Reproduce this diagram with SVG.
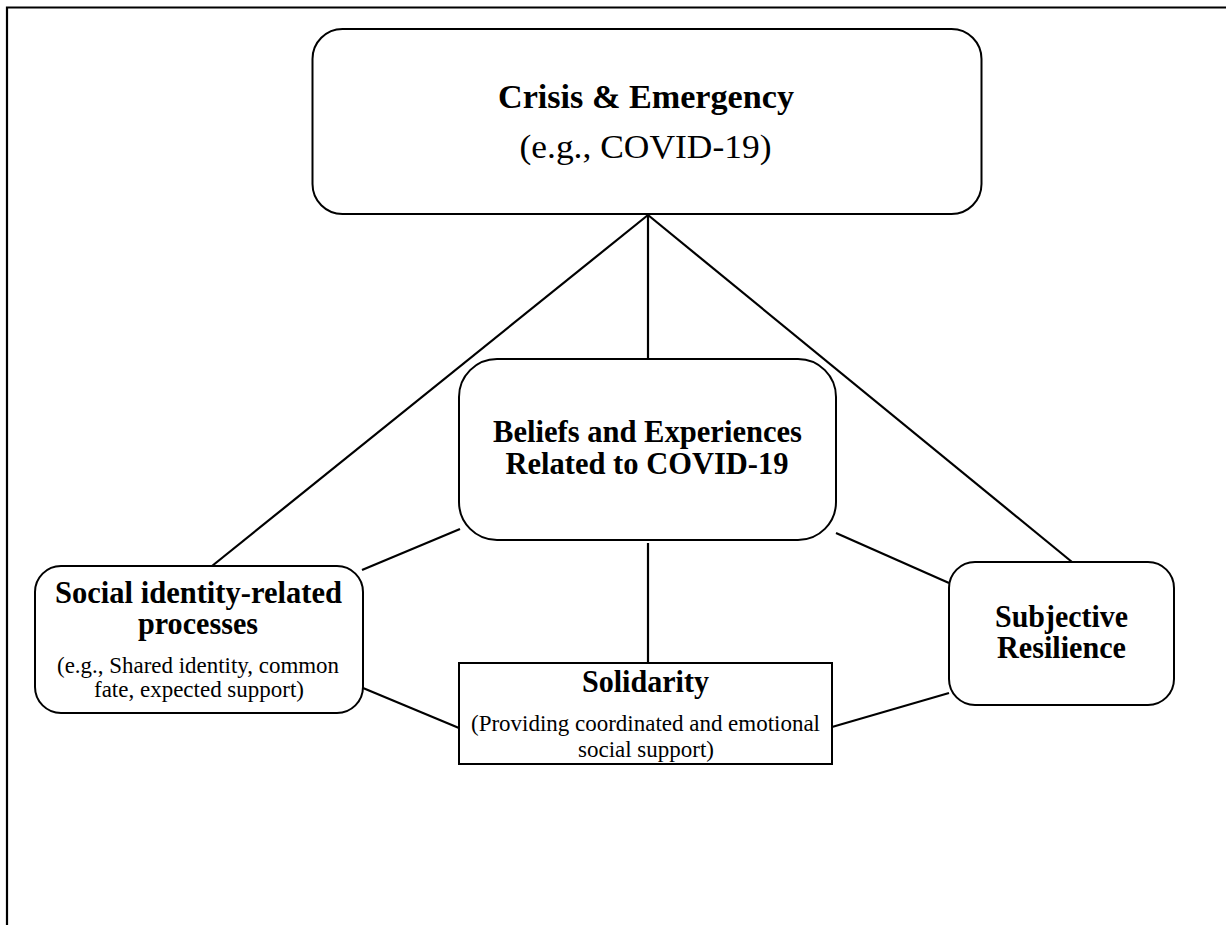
<svg xmlns="http://www.w3.org/2000/svg" width="1226" height="925" viewBox="0 0 1226 925">
<style>
.box{fill:#fff;stroke:#000;stroke-width:2}
.ln{stroke:#000;stroke-width:2.2;fill:none}
text{font-family:"Liberation Serif","Times New Roman",serif;fill:#000;text-anchor:middle}
.b{font-weight:bold;font-size:30.5px}
.big{font-size:34.5px}
.s{font-size:23px}
</style>
<rect width="1226" height="925" fill="#fff"/>
<g id="frame"><path class="ln" d="M7,925 V7.5 H1226"/></g>
<g id="connectors">
<line class="ln" x1="648" y1="215" x2="212" y2="566"/>
<line class="ln" x1="648" y1="215" x2="648" y2="359"/>
<line class="ln" x1="648" y1="215" x2="1072" y2="562"/>
<line class="ln" x1="460" y1="529" x2="362" y2="570"/>
<line class="ln" x1="836" y1="533" x2="949" y2="583"/>
<line class="ln" x1="648" y1="543" x2="648" y2="663"/>
<line class="ln" x1="363" y1="688" x2="459" y2="728"/>
<line class="ln" x1="832" y1="727" x2="949" y2="693"/>
</g>
<g id="crisis">
<rect class="box" x="312.5" y="29" width="669" height="185" rx="30"/>
<text class="b big" x="646" y="108" textLength="296" lengthAdjust="spacingAndGlyphs">Crisis &amp; Emergency</text>
<text class="big" x="645.5" y="158" textLength="252" lengthAdjust="spacingAndGlyphs">(e.g., COVID-19)</text>
</g>
<g id="beliefs">
<rect class="box" x="459" y="359" width="377" height="181" rx="38"/>
<text class="b" x="647.5" y="442" textLength="309" lengthAdjust="spacingAndGlyphs">Beliefs and Experiences</text>
<text class="b" x="647" y="474" textLength="283" lengthAdjust="spacingAndGlyphs">Related to COVID-19</text>
</g>
<g id="social">
<rect class="box" x="35" y="566" width="328" height="147" rx="26"/>
<text class="b" x="198.5" y="603" textLength="287" lengthAdjust="spacingAndGlyphs">Social identity-related</text>
<text class="b" x="198" y="634" textLength="120" lengthAdjust="spacingAndGlyphs">processes</text>
<text class="s" x="198" y="673" textLength="282" lengthAdjust="spacingAndGlyphs">(e.g., Shared identity, common</text>
<text class="s" x="199" y="697" textLength="210" lengthAdjust="spacingAndGlyphs">fate, expected support)</text>
</g>
<g id="solidarity">
<rect class="box" x="459" y="663" width="373" height="101"/>
<text class="b" x="645.5" y="692" textLength="127" lengthAdjust="spacingAndGlyphs">Solidarity</text>
<text class="s" x="645.5" y="731" textLength="349" lengthAdjust="spacingAndGlyphs">(Providing coordinated and emotional</text>
<text class="s" x="646" y="757" textLength="136" lengthAdjust="spacingAndGlyphs">social support)</text>
</g>
<g id="resilience">
<rect class="box" x="949" y="562" width="225" height="143" rx="26"/>
<text class="b" x="1061.5" y="627" textLength="133" lengthAdjust="spacingAndGlyphs">Subjective</text>
<text class="b" x="1061.5" y="658" textLength="129" lengthAdjust="spacingAndGlyphs">Resilience</text>
</g>
</svg>
